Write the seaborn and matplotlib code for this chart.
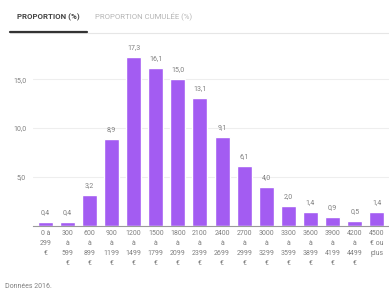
"""
Distribution of monthly income brackets (proportion, %), 2016 data.
"""
import matplotlib.pyplot as plt
import pandas as pd
import seaborn as sns

tranches = [
    "0 à\n299\n€", "300\nà\n599\n€", "600\nà\n899\n€", "900\nà\n1199\n€",
    "1200\nà\n1499\n€", "1500\nà\n1799\n€", "1800\nà\n2099\n€",
    "2100\nà\n2399\n€", "2400\nà\n2699\n€", "2700\nà\n2999\n€",
    "3000\nà\n3299\n€", "3300\nà\n3599\n€", "3600\nà\n3899\n€",
    "3900\nà\n4199\n€", "4200\nà\n4499\n€", "4500\n€ ou\nplus",
]
proportion = [0.4, 0.4, 3.2, 8.9, 17.3, 16.1, 15.0, 13.1,
              9.1, 6.1, 4.0, 2.0, 1.4, 0.9, 0.5, 1.4]
yticks = [5.0, 10.0, 15.0]

PURPLE = "#a35cf2"
GREY = "#808080"


def fr(v: float) -> str:
    return f"{v:.1f}".replace(".", ",")


if __name__ == "__main__":
    sns.set_style("white")
    plt.rcParams["font.family"] = ["Roboto", "DejaVu Sans"]

    dataf = pd.DataFrame({"tranche": tranches, "proportion": proportion})

    fig = plt.figure(figsize=(3.89, 2.91), dpi=100)
    ax = fig.add_axes([0.085, 0.2234, 0.915, 0.6391])

    sns.barplot(data=dataf, x="tranche", y="proportion", color=PURPLE,
                saturation=1, width=0.68, ax=ax)

    # value labels above bars
    for i, v in enumerate(proportion):
        ax.text(i, v + 0.6, fr(v), ha="center", va="bottom",
                fontsize=5, color=GREY)

    ax.set_xlim(-0.55, 15.55)
    ax.set_ylim(0, 19)
    ax.set_yticks(yticks)
    ax.set_yticklabels([fr(t) for t in yticks], fontsize=5, color=GREY)
    ax.yaxis.grid(True, color="#eeeeee", linewidth=0.8)
    ax.set_axisbelow(True)
    ax.tick_params(axis="y", length=0, pad=5)
    ax.tick_params(axis="x", length=0, pad=3)
    ax.set_xticks(range(len(tranches)))
    ax.set_xticklabels(tranches, fontsize=5, color=GREY, linespacing=1.6,
                       va="top")
    ax.set_xlabel("")
    ax.set_ylabel("")
    for side in ("top", "right", "left"):
        ax.spines[side].set_visible(False)
    ax.spines["bottom"].set_color("#9a9a9a")
    ax.spines["bottom"].set_linewidth(0.8)

    # tabs header
    fig.text(17 / 389, 1 - 17 / 291, "PROPORTION (%)", fontsize=5.7,
             fontweight="bold", color="#444444", va="center")
    fig.text(95 / 389, 1 - 17 / 291, "PROPORTION CUMULÉE (%)", fontsize=5.6,
             color="#b5b5b5", va="center")
    fig.add_artist(plt.Line2D([10 / 389, 1], [1 - 33 / 291] * 2,
                              color="#e6e6e6", linewidth=0.8))
    fig.add_artist(plt.Line2D([10 / 389, 87 / 389], [1 - 32 / 291] * 2,
                              color="#333333", linewidth=1.6))

    fig.text(5 / 389, 1 - 286 / 291, "Données 2016.", fontsize=5,
             color=GREY, va="center")

    fig.savefig("out.png", dpi=100)
